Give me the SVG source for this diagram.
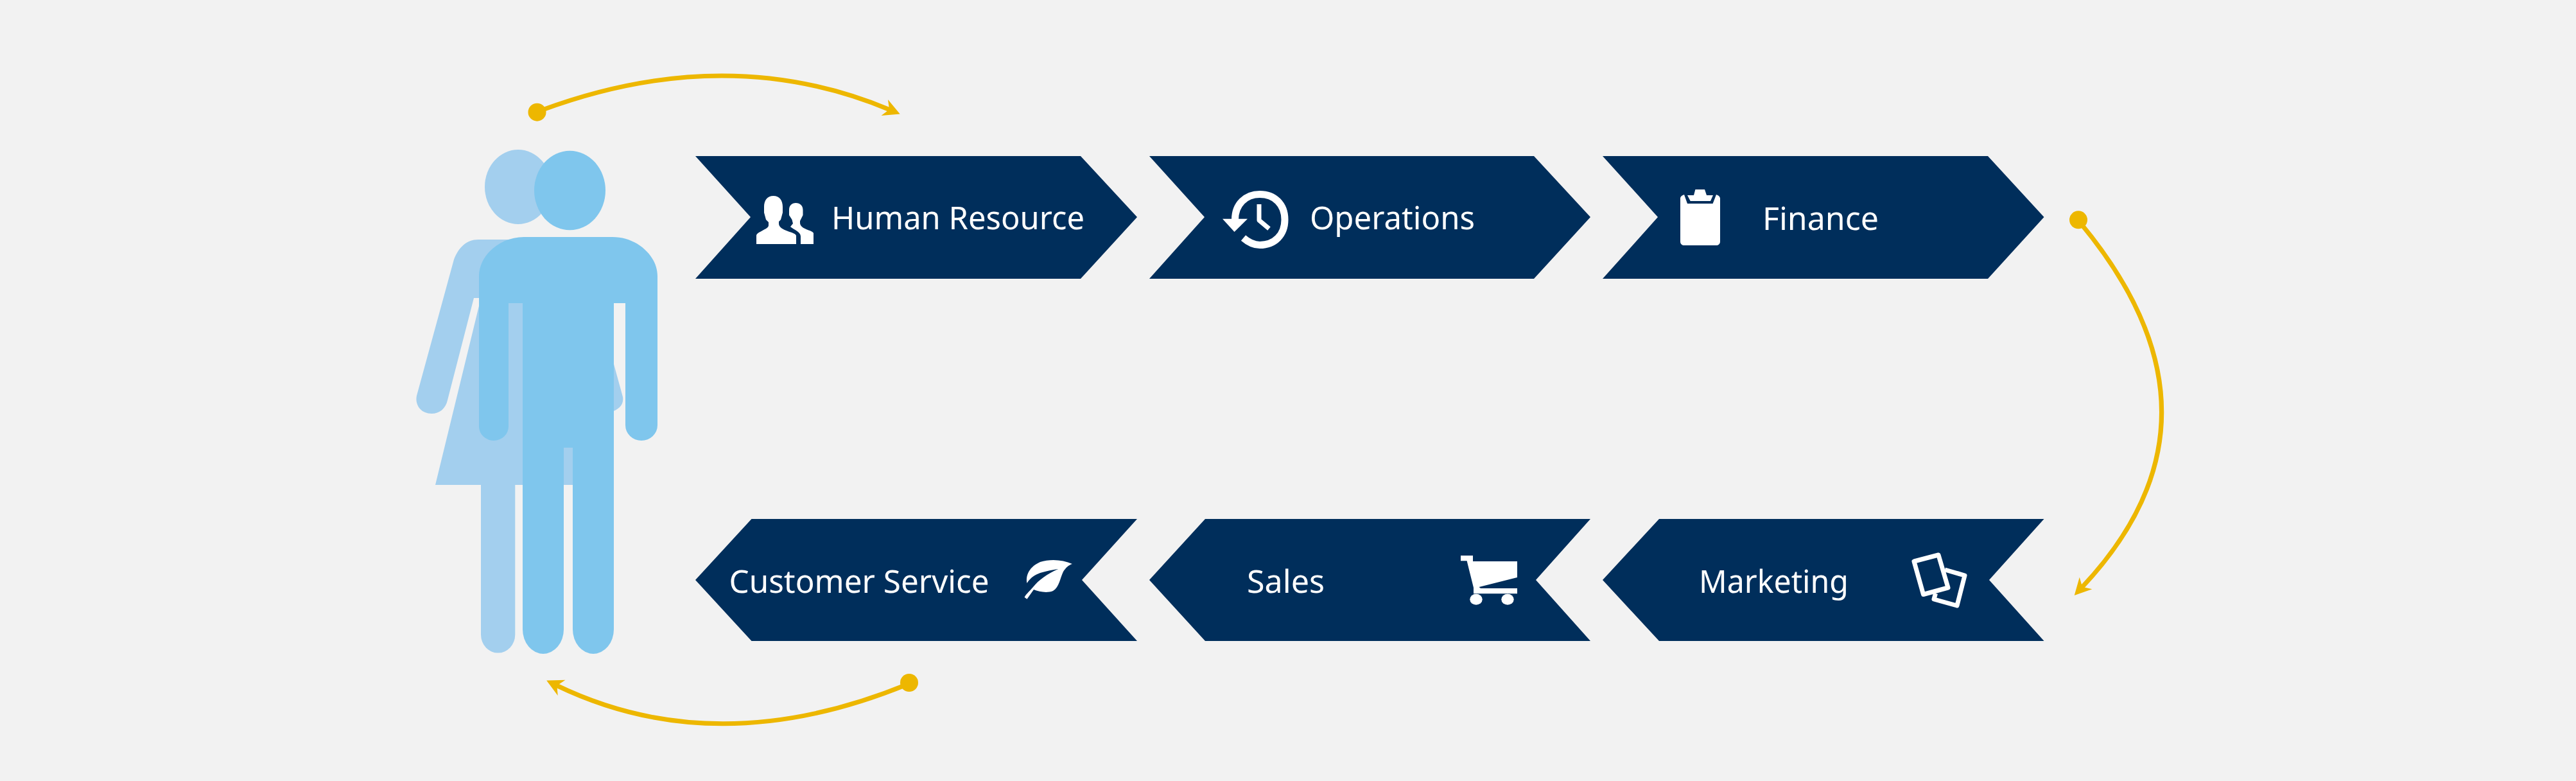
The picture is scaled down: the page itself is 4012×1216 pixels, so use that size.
<svg xmlns="http://www.w3.org/2000/svg" width="4012" height="1216" viewBox="0 0 4012 1216">
<style>
.chev{fill:#002E5B}
.ico{fill:#fff}
.icl{fill:none;stroke:#fff;stroke-linejoin:round}
.lbl{font-family:"Noto Sans","Open Sans",sans-serif;font-weight:400;font-size:50px;fill:#fff}
.flow{fill:none;stroke:#EDB700;stroke-width:7}
.dot{fill:#EDB700}
</style>
<defs>
<marker id="ah" markerUnits="userSpaceOnUse" viewBox="-30 -16 32 32" refX="-17" refY="0" markerWidth="32" markerHeight="32" orient="auto"><path d="M0 0L-26 -13.5L-18 0L-26 13.5Z" fill="#EDB700"/></marker>
</defs>
<rect width="4012" height="1216" fill="#F2F2F2"/>
<g id="woman" fill="#A3CFEE">
<ellipse cx="807" cy="291" rx="52" ry="58"/>
<path d="M749 755H802.300V988A26.600 28.500 0 0 1 749 988Z"/>
<path d="M745 373H900V380L956 567L970 618C972 630 964 638 950 642L940 642V755H678L749 464H738L697 623C694 636 685 644 672 644C655 644 646 630 649 616L707 404C714 386 726 373 745 373Z"/>
</g>
<g id="man" fill="#7FC6ED">
<ellipse cx="887.500" cy="296.500" rx="55.500" ry="61.700"/>
<path d="M816 369H954C992 369 1024 398 1024 430V662A25 24 0 0 1 974 662V472H956V980A32 38 0 0 1 892 980V697H878V980A32 38 0 0 1 814 980V472H792V664A23 22 0 0 1 746 664V430C746 398 778 369 816 369Z"/>
</g>
<g id="connectors">
<path class="flow" d="M845 171Q1133 65 1386 171" marker-end="url(#ah)"/>
<path class="flow" d="M3240 347Q3492 650 3242.400 914.600" marker-end="url(#ah)"/>
<path class="flow" d="M1412 1066Q1115 1187 866.500 1067" marker-end="url(#ah)"/>
<circle class="dot" cx="836.500" cy="174.700" r="14"/>
<circle class="dot" cx="3237" cy="342.300" r="14"/>
<circle class="dot" cx="1416" cy="1063" r="14"/>
</g>
<g id="node-human-resource">
<path class="chev" d="M1083 243H1683L1771 338L1683 434H1083L1169 338Z"/>
<path class="ico" d="M1204.500 305C1195 305 1190 312 1190 322V331L1193 342L1197 346V351C1197 357 1178 361 1178 367V380H1240V367C1240 361 1213 360 1213 348V345L1216 342L1219 331V322C1219 312 1214 305 1204.500 305Z"/>
<path class="ico" d="M1239.500 316C1233 316 1229 320 1229 327V335L1233.500 342L1235 348L1231 353C1237 358 1247 361 1247 368V380H1267V363C1265 358 1246 357 1246 347V344L1250.500 335V327C1250.500 320 1246 316 1239.500 316Z"/>
<text class="lbl" x="1295" y="357" textLength="394" lengthAdjust="spacingAndGlyphs">Human Resource</text>
</g>
<g id="node-operations">
<path class="chev" d="M1790 243H2389L2477 338L2389 434H1790L1876 338Z"/>
<path class="icl" stroke-width="11" stroke-linejoin="miter" d="M1923.500 342C1923.500 318 1940 302.500 1962 302.500C1985 302.500 2001 318 2001 342C2001 366 1985 381.500 1962 381.500C1952 381.500 1944 377 1936.500 370.500"/>
<path class="ico" d="M1904 340.700H1943L1922.500 361Z"/>
<path class="icl" stroke-width="7" stroke-linejoin="miter" d="M1961 318V343L1976.500 356"/>
<text class="lbl" x="2040" y="357" textLength="257" lengthAdjust="spacingAndGlyphs">Operations</text>
</g>
<g id="node-finance">
<path class="chev" d="M2496 243H3096L3183.500 338L3096 434H2496L2582 338Z"/>
<path class="ico" d="M2623 303L2628 317H2667.600L2673 303C2676 304 2679 306 2679 309V376C2679 380 2676 382 2673 382H2623C2620 382 2617 380 2617 376V309C2617 306 2620 304 2623 303Z"/>
<path class="ico" d="M2640.400 295H2655L2658 304H2668L2664 313H2632.700L2628 304H2638Z"/>
<text class="lbl" x="2745" y="357.500" textLength="181" lengthAdjust="spacingAndGlyphs">Finance</text>
</g>
<g id="node-marketing">
<path class="chev" d="M2496 903L2584 808H3183.500L3098 903L3183.500 998H2584Z"/>
<path class="icl" stroke-width="7" d="M2981 874L3019 864L3034 915L2995.500 925.500Z"/>
<path class="icl" stroke-width="7" d="M3029 887L3060 896L3048 943L3012 933L3014.500 924"/>
<text class="lbl" x="2646" y="923" textLength="233" lengthAdjust="spacingAndGlyphs">Marketing</text>
</g>
<g id="node-sales">
<path class="chev" d="M1790 903L1877 808H2477L2392 903L2477 998H1877Z"/>
<path class="ico" d="M2275 865H2294V874H2363V899L2303.500 914L2306 916H2363V924.300H2295V915L2284.600 873.300H2275Z"/>
<ellipse class="ico" cx="2299" cy="933.300" rx="9.700" ry="8.500"/>
<ellipse class="ico" cx="2348" cy="933.300" rx="9.700" ry="8.500"/>
<text class="lbl" x="1942" y="923" textLength="121" lengthAdjust="spacingAndGlyphs">Sales</text>
</g>
<g id="node-customer-service">
<path class="chev" d="M1083 903L1170.500 808H1771L1685 903L1771 998H1170.500Z"/>
<path class="ico" d="M1670 878C1655 871 1635 870 1620 875C1604 882 1597 895 1599.500 908C1605 899 1612 895 1620 892C1630 889 1640 887 1648 886C1630 894 1618 903 1609 914C1603 921 1597 926 1595.600 930L1599.500 932.700L1610 918C1618 921 1630 924 1640 920C1650 914 1651 900 1656 890C1660 884 1664 880 1670 878Z"/>
<text class="lbl" x="1135.500" y="923" textLength="405" lengthAdjust="spacingAndGlyphs">Customer Service</text>
</g>
</svg>
